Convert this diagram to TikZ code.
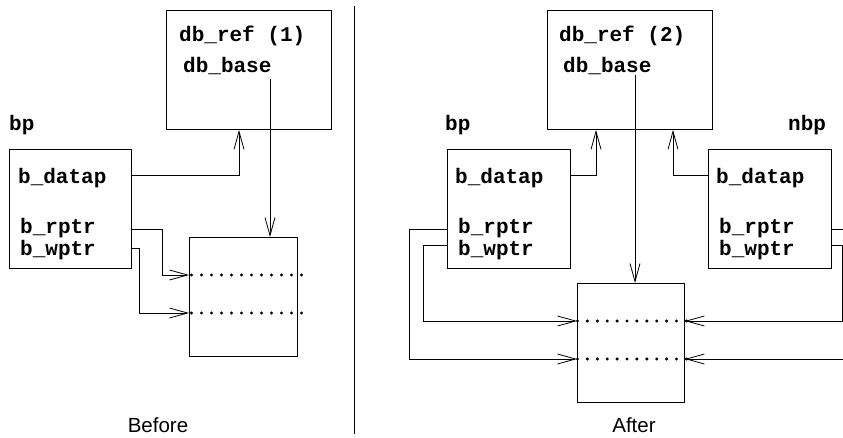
\documentclass[tikz,border=0pt]{standalone}
\usepackage{fontspec}
\setmainfont{Liberation Sans}
\setmonofont{Liberation Mono}
\usetikzlibrary{arrows.meta}
\tikzset{
  box/.style={draw, line width=0.9pt, anchor=north west, inner sep=0pt},
  field/.style={anchor=base west, inner sep=0pt, font=\fontsize{21}{24}\selectfont\ttfamily\bfseries},
  caption/.style={anchor=base, inner sep=0pt, font=\fontsize{20.5}{24}\selectfont},
  link/.style={line width=0.8pt, -{Straight Barb[length=18pt,width=10pt,line width=0.8pt]}},
  dot/.style={fill, circle, inner sep=0pt, minimum size=3.4pt}
}
\begin{document}
\begin{tikzpicture}[x=1pt, y=-1pt]
\useasboundingbox (0,0) rectangle (843,437);
\clip (0,0) rectangle (843,437);

% ---------------- Before ----------------
\node[box, minimum width=165pt, minimum height=119pt] (ref1) at (166,10) {};
\node[box, minimum width=122pt, minimum height=119pt] (bp1) at (9,149) {};
\node[box, minimum width=108pt, minimum height=119pt] (dat1) at (189,237) {};

\node[field] (ref1t) at (179,41) {db\_ref (1)};
\node[field] (base1) at (183,72) {db\_base};
\node[field] (bp1t) at (9,130) {bp};
\node[field] (dp1) at (18,183) {b\_datap};
\node[field] (rp1) at (20,233) {b\_rptr};
\node[field] (wp1) at (20,255) {b\_wptr};

\coordinate (r1) at (bp1.east |- 0,229);
\coordinate (w1) at (bp1.east |- 0,248);
\coordinate (rin1) at (dat1.west |- 0,275);
\coordinate (win1) at (dat1.west |- 0,313);

\draw[link] (bp1.east |- 0,175) -| (ref1.south -| 239,0);
\draw[link] (270,79) -- (dat1.north -| 270,0);
\draw[link] (r1) -- (162,229) -- (162,275) -- (rin1);
\draw[link] (w1) -- (139,248) -- (139,313) -- (win1);

\foreach \i in {0,...,11} {
  \node[dot] at (191.5+10*\i,275) {};
  \node[dot] at (191.5+10*\i,313) {};
}

\node[caption] (before) at (158,432) {Before};

% divider
\coordinate (top) at (354,6);
\coordinate (bot) at (354,434);
\draw[line width=0.9pt] (top) -- (bot);

% ---------------- After ----------------
\node[box, minimum width=165pt, minimum height=119pt] (ref2) at (547,10) {};
\node[box, minimum width=123pt, minimum height=119pt] (bp2) at (447,149) {};
\node[box, minimum width=123pt, minimum height=119pt] (nbp) at (708,149) {};
\node[box, minimum width=107pt, minimum height=119pt] (dat2) at (577,283) {};

\node[field] (ref2t) at (559,41) {db\_ref (2)};
\node[field] (base2) at (563,72) {db\_base};
\node[field] (bp2t) at (445,130) {bp};
\node[field] (dp2) at (455,183) {b\_datap};
\node[field] (rp2) at (458,233) {b\_rptr};
\node[field] (wp2) at (458,255) {b\_wptr};
\node[field] (nbpt) at (788,130) {nbp};
\node[field] (dp3) at (716,183) {b\_datap};
\node[field] (rp3) at (719,233) {b\_rptr};
\node[field] (wp3) at (719,255) {b\_wptr};

\draw[link] (bp2.east |- 0,175) -| (ref2.south -| 596,0);
\draw[link] (nbp.west |- 0,175) -| (ref2.south -| 673,0);
\draw[link] (635,75) -- (dat2.north -| 635,0);

\draw[link] (bp2.west |- 0,229) -- (409,229) -- (409,359) -- (dat2.west |- 0,359);
\draw[link] (bp2.west |- 0,245) -- (423,245) -- (423,321) -- (dat2.west |- 0,321);
\draw[link] (nbp.east |- 0,229) -- (847,229) -- (847,359) -- (dat2.east |- 0,359);
\draw[link] (nbp.east |- 0,245) -- (842,245) -- (842,321) -- (dat2.east |- 0,321);

\foreach \i in {0,...,11} {
  \node[dot] at (577.5+9.9*\i,321) {};
  \node[dot] at (577.5+9.9*\i,359) {};
}

\node[caption] (after) at (634,432) {After};
\end{tikzpicture}
\end{document}
